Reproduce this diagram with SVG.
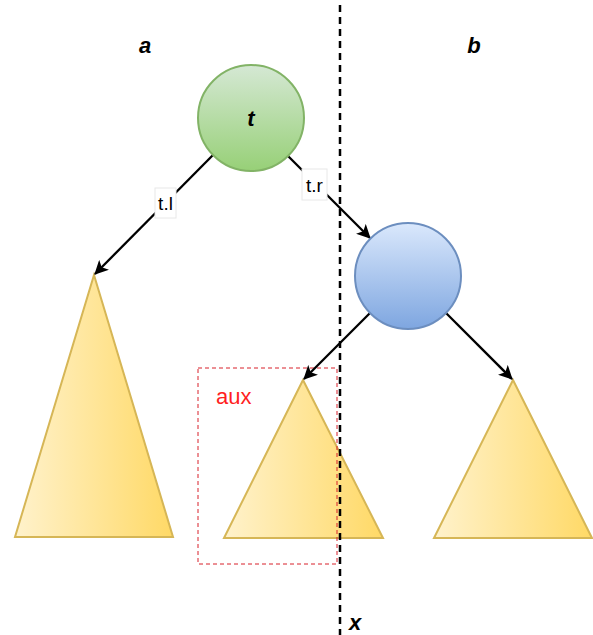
<svg xmlns="http://www.w3.org/2000/svg" width="593" height="635" viewBox="0 0 593 635">
<defs>
<linearGradient id="gGreen" x1="0" y1="0" x2="0" y2="1"><stop offset="0" stop-color="#d5e8d4"/><stop offset="1" stop-color="#97d077"/></linearGradient>
<linearGradient id="gBlue" x1="0" y1="0" x2="0" y2="1"><stop offset="0" stop-color="#dae8fc"/><stop offset="1" stop-color="#7ea6e0"/></linearGradient>
<linearGradient id="gYellow" x1="0" y1="0" x2="1" y2="0"><stop offset="0" stop-color="#fff2cc"/><stop offset="1" stop-color="#ffd966"/></linearGradient>
<marker id="arr" viewBox="0 0 14 14" refX="13" refY="7" markerWidth="14" markerHeight="14" markerUnits="userSpaceOnUse" orient="auto">
<path d="M0,0 L14,7 L0,14 L3.5,7 Z" fill="#000"/>
</marker>
</defs>
<style>
.tri{fill:url(#gYellow);stroke:#d6b656;stroke-width:2;stroke-linejoin:miter}
.edge{stroke:#000;stroke-width:2.3;fill:none;marker-end:url(#arr)}
.lbl{font-family:"Liberation Sans",Arial,sans-serif;font-size:19px;fill:#000}
.bi{font-family:"Liberation Sans",Arial,sans-serif;font-size:22px;font-weight:bold;font-style:italic;fill:#000}
.lblbg{fill:#fff;stroke:#e8e8e8;stroke-width:1}
</style>
<rect width="593" height="635" fill="#fff"/>
<g id="label-a"><text class="bi" x="145" y="53" text-anchor="middle">a</text></g>
<g id="label-b"><text class="bi" x="474" y="53" text-anchor="middle">b</text></g>
<g id="label-x"><text class="bi" x="355" y="630" text-anchor="middle">x</text></g>
<g id="tree-left"><polygon class="tri" points="94,275 173,537 15,537"/></g>
<g id="tree-mid"><polygon class="tri" points="303,380 383,538 224,538"/></g>
<g id="tree-right"><polygon class="tri" points="513,380 592,538 434,538"/></g>
<g id="aux">
<rect x="198" y="368" width="139" height="196" fill="none" stroke="#d8202a" stroke-width="1" stroke-dasharray="4,3"/>
<text x="216" y="404" font-family="Liberation Sans,Arial,sans-serif" font-size="22" fill="#ff1f1f">aux</text>
</g>
<g id="divider">
<line x1="340" y1="5" x2="340" y2="635" stroke="#000" stroke-width="2.5" stroke-dasharray="7,5"/>
</g>
<g id="connectors">
<line class="edge" x1="213" y1="155" x2="95" y2="274"/>
<line class="edge" x1="288" y1="156" x2="370" y2="238"/>
<line class="edge" x1="370" y1="313" x2="304" y2="379"/>
<line class="edge" x1="446" y1="313" x2="512" y2="379"/>
<rect class="lblbg" x="155" y="188" width="21" height="30"/>
<text class="lbl" x="165.5" y="210" text-anchor="middle">t.l</text>
<rect class="lblbg" x="302" y="169" width="25" height="31"/>
<text class="lbl" x="314.5" y="192" text-anchor="middle">t.r</text>
</g>
<g id="node-t">
<circle cx="251" cy="118" r="53" fill="url(#gGreen)" stroke="#82b366" stroke-width="2"/>
<text class="bi" x="251" y="126" text-anchor="middle">t</text>
</g>
<g id="node-r">
<circle cx="408" cy="276" r="53" fill="url(#gBlue)" stroke="#6c8ebf" stroke-width="2"/>
</g>
</svg>
